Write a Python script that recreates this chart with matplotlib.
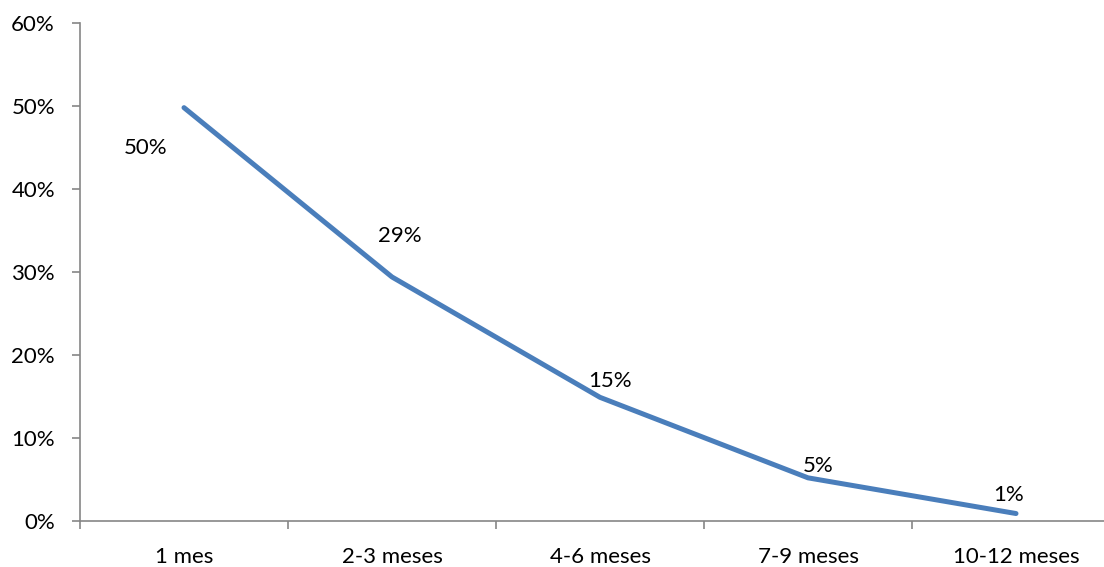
import numpy as np
import matplotlib
matplotlib.use("Agg")
import matplotlib.pyplot as plt
from matplotlib.ticker import PercentFormatter, FixedLocator

plt.rcParams['font.family'] = ['Lato', 'DejaVu Sans']

categories = ["1 mes", "2-3 meses", "4-6 meses", "7-9 meses", "10-12 meses"]
values = [0.498, 0.294, 0.149, 0.052, 0.009]
# hand-placed label offsets (pixels) for each data label
label_offsets = [(-38, -40), (8, 41), (10, 16), (10, 12), (-7, 19)]

fs = 16

fig = plt.figure(figsize=(11.04, 5.67), dpi=100)
ax = fig.add_axes([80 / 1104, 1 - 521 / 567, 1040 / 1104, 498 / 567])

x = np.arange(len(categories)) + 0.5
ax.plot(x, values, color="#4A7EBB", linewidth=3.6, solid_capstyle="round",
        solid_joinstyle="round")

for xi, v, (dx, dy) in zip(x, values, label_offsets):
    ax.annotate(f"{v:.0%}", (xi, v), xytext=(dx, dy), textcoords="offset pixels",
                ha="center", va="center", fontsize=fs, color="black")

ax.set_xlim(0, len(categories))
ax.set_ylim(0, 0.6)
ax.set_yticks(np.arange(0, 0.61, 0.1))
ax.yaxis.set_major_formatter(PercentFormatter(1.0, decimals=0))

ax.xaxis.set_major_locator(FixedLocator(np.arange(len(categories) + 1)))
ax.xaxis.set_minor_locator(FixedLocator(x))
ax.set_xticklabels([], minor=False)
ax.set_xticklabels(categories, minor=True)
ax.tick_params(axis="x", which="minor", length=0, pad=19, labelsize=fs)
ax.tick_params(axis="x", which="major", length=6, width=1.2, color="#868686")
ax.tick_params(axis="y", length=6, width=1.2, color="#868686", labelsize=fs, pad=12)

for side in ["top", "right"]:
    ax.spines[side].set_visible(False)
for side in ["left", "bottom"]:
    ax.spines[side].set_color("#868686")
    ax.spines[side].set_linewidth(1.2)

fig.savefig("out.png", dpi=100)
